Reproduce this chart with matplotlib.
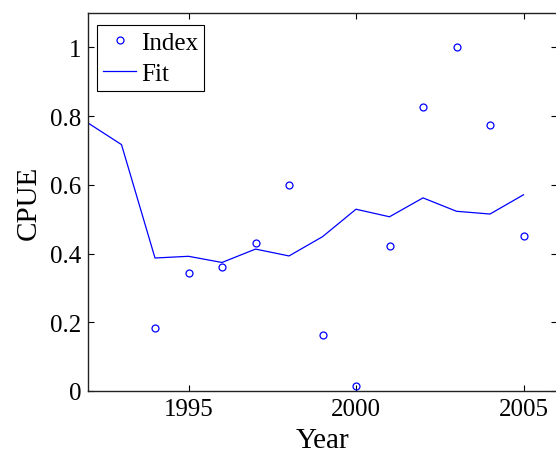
import numpy as np
import matplotlib
matplotlib.use('Agg')
import matplotlib.pyplot as plt

plt.rcParams['font.family'] = ['Liberation Serif', 'DejaVu Serif']

# CPUE index by year and the fitted model
index_years = [1994, 1995, 1996, 1997, 1998, 1999, 2000, 2001, 2002, 2003, 2004, 2005]
index_cpue = [0.184, 0.344, 0.362, 0.430, 0.600, 0.162, 0.014, 0.422, 0.826, 1.000, 0.773, 0.451]

fit_years = [1992, 1993, 1994, 1995, 1996, 1997, 1998, 1999, 2000, 2001, 2002, 2003, 2004, 2005]
fit_cpue = [0.780, 0.717, 0.387, 0.392, 0.374, 0.413, 0.393, 0.449, 0.529, 0.507, 0.562, 0.523, 0.515, 0.571]

fig = plt.figure(figsize=(5.56, 4.56), dpi=100)
ax = fig.add_axes([88 / 556, 64 / 456, 469 / 556, 378 / 456])

ax.plot(index_years, index_cpue, 'o', color='#0000ff', markerfacecolor='none',
        markersize=5, markeredgewidth=0.9, label='Index')
ax.plot(fit_years, fit_cpue, '-', color='#0000ff', linewidth=0.9, label='Fit')

ax.set_xlim(1992, 2006)
ax.set_ylim(0, 1.1)
ax.set_xticks([1995, 2000, 2005])
ax.set_yticks([0, 0.2, 0.4, 0.6, 0.8, 1])
ax.set_yticklabels(['0', '0.2', '0.4', '0.6', '0.8', '1'])

ax.tick_params(direction='in', top=True, right=True, length=4, width=0.8,
               labelsize=18, pad=5)
for s in ax.spines.values():
    s.set_linewidth(1.0)
    s.set_color('#222222')
# the right edge of the box falls on the figure border
ax.spines['right'].set_visible(False)

ax.set_xlabel('Year', fontsize=21, labelpad=5)
ax.set_ylabel('CPUE', fontsize=21, labelpad=6)

# legend box placed in the upper-left corner of the axes
leg = ax.legend(loc='upper left', bbox_to_anchor=(9 / 469, 1 - 12 / 378),
                borderaxespad=0, fontsize=18, frameon=True, fancybox=False,
                edgecolor='black', framealpha=1, borderpad=0.25, labelspacing=0.35,
                handlelength=1.3, handletextpad=0.2)
leg.get_frame().set_linewidth(0.8)

fig.savefig('out.png', dpi=100)
